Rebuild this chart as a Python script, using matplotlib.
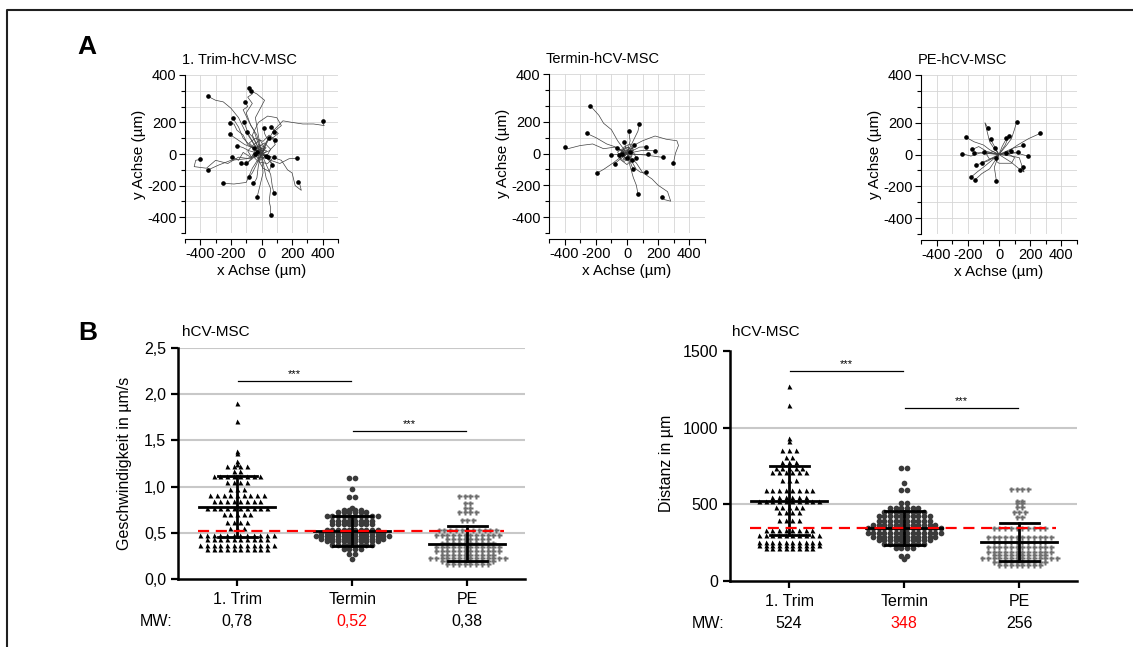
"""
plot.py

hCV-MSC migration: tracks (A) and speed / distance per group (B).
"""

import matplotlib
matplotlib.use("Agg")
import matplotlib.pyplot as plt
import numpy as np
from matplotlib.lines import Line2D

plt.rcParams["font.family"] = ["Liberation Sans", "DejaVu Sans"]

W, H = 1133, 647

# --- Panel A: cell tracks (x, y in µm), every track starts at the origin ---
TRIM_TRACKS = [
    [(0, 0), (-60, 80), (-110, 150), (-150, 230), (-200, 290), (-250, 330), (-300, 340), (-350, 365)],
    [(0, 0), (-30, 120), (-70, 180), (-100, 260), (-60, 320), (-90, 360), (-60, 380), (-80, 420)],
    [(0, 0), (-50, 150), (-80, 200), (-120, 280), (-90, 300), (-105, 330)],
    [(0, 0), (-90, 60), (-120, 120), (-160, 150), (-180, 190), (-208, 194)],
    [(0, 0), (-70, 50), (-120, 100), (-150, 170), (-186, 225)],
    [(0, 0), (-60, 110), (-90, 140), (-116, 204)],
    [(0, 0), (-60, 40), (-110, 60), (-170, 100), (-208, 124)],
    [(0, 0), (-80, 20), (-120, 40), (-160, 53)],
    [(0, 0), (-40, -20), (-70, -30), (-100, -70), (-131, -59)],
    [(0, 0), (-80, -30), (-150, -20), (-220, -60), (-300, -40), (-360, -90),
     (-440, -80), (-430, -40), (-400, -34)],
    [(0, 0), (-100, -30), (-200, -40), (-280, -70), (-350, -101)],
    [(0, 0), (-60, -90), (-100, -180), (-180, -190), (-254, -185)],
    [(0, 0), (-40, -80), (-60, -120), (-83, -147)],
    [(0, 0), (-20, -70), (-30, -150), (-40, -170), (-55, -185)],
    [(0, 0), (10, -120), (-10, -200), (-28, -270)],
    [(0, 0), (30, -150), (60, -220), (50, -300), (60, -340), (59, -385)],
    [(0, 0), (60, -130), (70, -200), (81, -248)],
    [(0, 0), (60, -40), (120, -60), (180, -30), (234, -27)],
    [(0, 0), (70, -20), (130, -40), (170, -100), (200, -120), (220, -200),
     (260, -230), (250, -190), (238, -175)],
    [(0, 0), (40, 80), (80, 150), (140, 210), (200, 200), (270, 190), (340, 190),
     (410, 180), (400, 195), (402, 208)],
    [(0, 0), (40, 90), (20, 130), (15, 162)],
    [(0, 0), (20, 60), (48, 99)],
    [(0, 0), (40, -30), (70, -69)],
    [(0, 0), (-50, 36)],
    [(0, 0), (-50, 60), (-94, 141)],
    [(0, 0), (-40, 230), (20, 340), (-30, 380), (-70, 400)],
    [(0, 0), (30, -20), (60, 30), (20, 70), (-30, 40), (-60, -10), (-20, -50), (40, -60), (80, -20)],
    [(0, 0), (-40, 30), (-80, 70), (-40, 100), (10, 80), (50, 120), (90, 90)],
    [(0, 0), (20, 40), (-10, 90), (-50, 60), (-90, 20), (-60, -30), (-100, -60)],
    [(0, 0), (-20, -40), (10, -90), (50, -110), (70, -60), (40, -20)],
    [(0, 0), (50, 20), (90, 60), (70, 100), (110, 130), (60, 170)],
    [(0, 0), (-30, 10), (-70, -20), (-120, 10), (-150, -40), (-190, -20)],
    [(0, 0), (30, 40), (-20, 60), (10, 20), (-40, -10), (-10, -40), (30, -10)],
    [(0, 0), (-60, 120), (-20, 200), (40, 240), (100, 230), (130, 180), (80, 140)],
    [(0, 0), (-30, 50), (20, 30), (-10, -20), (40, -30), (10, 10), (-40, 0)],
    [(0, 0), (25, -15), (-15, 25), (35, 20), (-25, -30), (5, 40), (-30, 15)],
]
TERMIN_TRACKS = [
    [(0, 0), (-60, 80), (-100, 150), (-150, 190), (-180, 240), (-235, 300)],
    [(0, 0), (-70, 40), (-130, 60), (-200, 100), (-257, 126)],
    [(0, 0), (-80, 40), (-150, 30), (-220, 60), (-300, 50), (-380, 30), (-398, 42)],
    [(0, 0), (-50, -30), (-90, -60), (-150, -100), (-191, -122)],
    [(0, 0), (20, 80), (11, 141)],
    [(0, 0), (50, 100), (70, 140), (80, 185)],
    [(0, 0), (-17, 74)],
    [(0, 0), (80, 40), (124, 42)],
    [(0, 0), (100, 20), (178, 17)],
    [(0, 0), (120, -10), (233, -25)],
    [(0, 0), (60, 60), (100, 80), (180, 110), (250, 90), (320, 80), (330, 50),
     (310, 0), (298, -59)],
    [(0, 0), (60, -60), (100, -120), (160, -160), (200, -200), (260, -240),
     (280, -300), (240, -290), (222, -274)],
    [(0, 0), (20, -80), (40, -150), (60, -200), (70, -253)],
    [(0, 0), (37, -95)],
    [(0, 0), (60, -100), (90, -120), (124, -116)],
    [(0, 0), (-78, -63)],
    [(0, 0), (135, 0)],
    [(0, 0), (-104, -10)],
    [(0, 0), (-61, 32)],
    [(0, 0), (48, 53)],
    [(0, 0), (20, -30), (-20, -50), (-50, -20), (-30, 20), (10, 40), (40, 10), (60, -30)],
    [(0, 0), (-30, 30), (-60, 10), (-40, -40), (0, -70), (30, -40)],
    [(0, 0), (40, 20), (20, 60), (-20, 40), (-40, -10), (0, -30)],
    [(0, 0), (30, -40), (-20, -30), (10, 30), (-10, -10), (20, 10)],
    [(0, 0), (-40, 10), (-20, -40), (30, -20), (40, 30), (-10, 40), (-50, -10)],
    [(0, 0), (15, 25), (-25, 15), (-15, -25), (25, -15), (35, 5), (-35, -5)],
]
PE_TRACKS = [
    [(0, 0), (-60, 30), (-100, 60), (-160, 80), (-213, 109)],
    [(0, 0), (-120, 10), (-180, -10), (-239, 6)],
    [(0, 0), (-80, 20), (-130, 50), (-170, 32)],
    [(0, 0), (-80, 10), (-159, 11)],
    [(0, 0), (-70, -40), (-148, -67)],
    [(0, 0), (-50, -40), (-100, -80), (-140, -110), (-180, -143)],
    [(0, 0), (-60, -90), (-110, -120), (-152, -158)],
    [(0, 0), (-30, -80), (-17, -164)],
    [(0, 0), (-40, 50), (-60, 80), (-90, 200), (-72, 168)],
    [(0, 0), (-54, 95)],
    [(0, 0), (20, 50), (48, 101)],
    [(0, 0), (40, 60), (63, 116)],
    [(0, 0), (50, 60), (80, 100), (100, 160), (113, 206)],
    [(0, 0), (60, 20), (120, 60), (190, 100), (265, 133)],
    [(0, 0), (90, 40), (157, 57)],
    [(0, 0), (110, 10), (189, -11)],
    [(0, 0), (80, -10), (130, -20), (160, -110), (152, -78)],
    [(0, 0), (80, -50), (135, -95)],
    [(0, 0), (-93, 17)],
    [(0, 0), (80, 21)],
    [(0, 0), (-20, -40), (0, -55), (80, -55), (100, -20), (48, 11)],
    [(0, 0), (-111, -53)],
    [(0, 0), (-28, 42)],
    [(0, 0), (124, 15)],
    [(0, 0), (-40, 20), (-80, 0), (-60, -30), (-20, -20)],
]
TRACK_TITLES = ["1. Trim-hCV-MSC", "Termin-hCV-MSC", "PE-hCV-MSC"]

# --- Panel B: per-cell values (level, number of cells at that level) ---
GROUPS = ["1. Trim", "Termin", "PE"]

SPEED_TRIM_LEVELS = [1.90, 1.71, 1.39, 1.36, 1.28, 1.25, 1.22, 1.17, 1.11, 1.05, 0.97,
                     0.91, 0.84, 0.77, 0.70, 0.62, 0.55, 0.48, 0.43, 0.37, 0.33]
SPEED_TRIM_COUNTS = [1, 1, 1, 1, 1, 1, 4, 2, 8, 4, 3, 9, 8, 10, 5, 4, 3, 12, 10, 12, 10]
SPEED_TERMIN_LEVELS = [1.09, 0.97, 0.89, 0.77, 0.75, 0.72, 0.68, 0.63, 0.59, 0.53, 0.50,
                       0.46, 0.43, 0.41, 0.37, 0.32, 0.27, 0.22]
SPEED_TERMIN_COUNTS = [2, 1, 2, 1, 4, 6, 10, 8, 8, 10, 12, 14, 12, 10, 8, 4, 2, 1]
SPEED_PE_LEVELS = [0.90, 0.82, 0.77, 0.73, 0.64, 0.53, 0.48, 0.43, 0.39, 0.35, 0.30,
                   0.26, 0.23, 0.19, 0.16]
SPEED_PE_COUNTS = [4, 2, 2, 4, 3, 11, 12, 8, 10, 12, 12, 10, 14, 10, 8]

DIST_TRIM_LEVELS = [1270, 1146, 933, 912, 853, 810, 777, 740, 712, 658, 593, 549, 523,
                    484, 451, 397, 332, 300, 256, 234, 213]
DIST_TRIM_COUNTS = [1, 1, 1, 1, 3, 2, 3, 5, 6, 3, 8, 6, 10, 5, 4, 4, 8, 10, 10, 10, 8]
DIST_TERMIN_LEVELS = [734, 640, 593, 506, 473, 451, 423, 393, 365, 343, 315, 289, 267,
                      241, 213, 163, 141]
DIST_TERMIN_COUNTS = [2, 1, 2, 2, 6, 8, 10, 10, 12, 14, 14, 12, 10, 8, 4, 2, 1]
DIST_PE_LEVELS = [603, 523, 506, 484, 451, 419, 343, 289, 256, 219, 191, 169, 148, 126, 104]
DIST_PE_COUNTS = [4, 2, 2, 2, 3, 2, 10, 12, 10, 12, 12, 10, 14, 10, 8]

# mean and SD bounds
SPEED_MEAN = [0.78, 0.52, 0.38]
SPEED_LOW = [0.45, 0.36, 0.19]
SPEED_HIGH = [1.12, 0.68, 0.57]
DIST_MEAN = [524, 348, 256]
DIST_LOW = [300, 235, 130]
DIST_HIGH = [750, 455, 380]

SPEED_MW = ["0,78", "0,52", "0,38"]
DIST_MW = ["524", "348", "256"]

# significance bars: (from group, to group, height)
SPEED_SIG = [(0, 1, 2.14), (1, 2, 1.60)]
DIST_SIG = [(0, 1, 1370), (1, 2, 1131)]


def px_axes(fig, left, right, top, bottom):
    return fig.add_axes([left / W, 1 - bottom / H, (right - left) / W, (bottom - top) / H])


def draw_tracks(ax, tracks, title):
    for tr in tracks:
        xs = [p[0] for p in tr]
        ys = [p[1] for p in tr]
        ax.plot(xs, ys, color="#404040", lw=0.5, zorder=3)
        ax.plot(xs[-1], ys[-1], "o", color="black", ms=2.3, zorder=4)

    ax.set_xlim(-500, 500)
    ax.set_ylim(-500, 500)
    ax.set_xticks([-400, -200, 0, 200, 400])
    ax.set_xticklabels(["-400", "-200", "0", "200", "400"])
    ax.set_xticks(np.arange(-500, 501, 100), minor=True)
    ax.set_yticks([500, 200, 0, -200, -400])
    ax.set_yticklabels(["400", "200", "0", "-200", "-400"])
    ax.set_yticks(np.arange(-500, 501, 100), minor=True)
    ax.grid(which="both", color="#d6d6d6", lw=0.6, zorder=0)
    ax.tick_params(which="major", length=4, width=0.8, labelsize=10.5, pad=2)
    ax.tick_params(which="minor", length=3, width=0.8)
    for side in ("top", "right"):
        ax.spines[side].set_visible(False)
    ax.spines["bottom"].set_position(("outward", 4))
    ax.spines["left"].set_linewidth(0.8)
    ax.spines["bottom"].set_linewidth(0.8)
    ax.set_xlabel("x Achse (µm)", fontsize=11, labelpad=2)
    ax.set_ylabel("y Achse (µm)", fontsize=11, labelpad=1)
    ax.set_title(title, fontsize=10.5, loc="left", x=-0.02, pad=8)


def swarm(levels, counts, center, spacing):
    xs, ys = [], []
    for lvl, n in zip(levels, counts):
        offs = (np.arange(n) - (n - 1) / 2) * spacing
        xs.extend(center + offs)
        ys.extend([lvl] * n)
    return np.array(xs), np.array(ys)


def draw_scatter(ax, data, means, lows, highs, mw, sig, ymax, yticks, yticklabels,
                 ylabel_grid, red_level):
    styles = [
        dict(marker="^", color="black", ms=3.6),
        dict(marker="o", color="#3a3a3a", ms=4.1),
        dict(marker="P", color="#6e6e6e", ms=3.6),
    ]
    spacings = [0.058, 0.049, 0.05]
    for i, (levels, counts) in enumerate(data):
        xs, ys = swarm(levels, counts, i, spacings[i])
        ax.plot(xs, ys, ls="none", mec="none", zorder=3, **styles[i])

    for i in range(3):
        ax.plot([i - 0.33, i + 0.33], [means[i]] * 2, color="black", lw=2, zorder=5)
        ax.plot([i - 0.17, i + 0.17], [lows[i]] * 2, color="black", lw=2, zorder=5)
        ax.plot([i - 0.17, i + 0.17], [highs[i]] * 2, color="black", lw=2, zorder=5)
        ax.plot([i, i], [lows[i], highs[i]], color="black", lw=2, zorder=5)

    ax.plot([-0.34, 2.32], [red_level] * 2, color="red", lw=1.6, dashes=(5, 3), zorder=6)

    for a, b, h in sig:
        ax.plot([a + 0.01, b - 0.01], [h, h], color="black", lw=0.9)
        ax.text((a + b) / 2, h + ymax * 0.008, "***", ha="center", va="bottom", fontsize=8)

    for g in ylabel_grid:
        ax.axhline(g, color="#c8c8c8", lw=1.5, zorder=0)

    ax.set_xlim(-0.513, 2.5)
    ax.set_ylim(0, ymax)
    ax.set_xticks(range(3))
    ax.set_xticklabels(GROUPS)
    ax.set_yticks(yticks)
    ax.set_yticklabels(yticklabels)
    ax.tick_params(axis="both", length=5, width=1.6, labelsize=11.5)
    ax.tick_params(axis="x", pad=4)
    for side in ("top", "right"):
        ax.spines[side].set_visible(False)
    for side in ("left", "bottom"):
        ax.spines[side].set_linewidth(1.8)

    tr = ax.get_xaxis_transform()
    ax.text(-0.70, -0.186, "MW:", transform=tr, ha="center", va="center", fontsize=11.5)
    for i, val in enumerate(mw):
        ax.text(i, -0.186, val, transform=tr, ha="center", va="center", fontsize=11.5,
                color="red" if i == 1 else "black")


def main():
    fig = plt.figure(figsize=(W / 100, H / 100), dpi=100)

    # frame
    fig.add_artist(Line2D([7 / W, 7 / W, 1], [0, 1 - 10 / H, 1 - 10 / H],
                          color="#202020", lw=1.5))

    fig.text(87 / W, 1 - 47 / H, "A", fontsize=19, fontweight="bold", ha="center", va="center")
    fig.text(88 / W, 1 - 333 / H, "B", fontsize=19, fontweight="bold", ha="center", va="center")

    boxes = [(185, 338, 75, 233), (549, 705, 74, 233), (921, 1077, 75, 234)]
    for box, tracks, title in zip(boxes, [TRIM_TRACKS, TERMIN_TRACKS, PE_TRACKS], TRACK_TITLES):
        ax = px_axes(fig, *box)
        draw_tracks(ax, tracks, title)

    ax1 = px_axes(fig, 178, 525, 348, 579)
    draw_scatter(
        ax1,
        [(SPEED_TRIM_LEVELS, SPEED_TRIM_COUNTS),
         (SPEED_TERMIN_LEVELS, SPEED_TERMIN_COUNTS),
         (SPEED_PE_LEVELS, SPEED_PE_COUNTS)],
        SPEED_MEAN, SPEED_LOW, SPEED_HIGH, SPEED_MW, SPEED_SIG, 2.5,
        [0, 0.5, 1.0, 1.5, 2.0, 2.5], ["0,0", "0,5", "1,0", "1,5", "2,0", "2,5"],
        [0.5, 1.0, 1.5, 2.0, 2.5], 0.52,
    )
    fig.text(125 / W, 1 - 463 / H, "Geschwindigkeit in µm/s", rotation=90,
             ha="center", va="center", fontsize=11.5)
    fig.text(182 / W, 1 - 332 / H, "hCV-MSC", ha="left", va="center", fontsize=11)

    ax2 = px_axes(fig, 730, 1077, 351, 581)
    draw_scatter(
        ax2,
        [(DIST_TRIM_LEVELS, DIST_TRIM_COUNTS),
         (DIST_TERMIN_LEVELS, DIST_TERMIN_COUNTS),
         (DIST_PE_LEVELS, DIST_PE_COUNTS)],
        DIST_MEAN, DIST_LOW, DIST_HIGH, DIST_MW, DIST_SIG, 1500,
        [0, 500, 1000, 1500], ["0", "500", "1000", "1500"],
        [500, 1000], 348,
    )
    fig.text(667 / W, 1 - 463 / H, "Distanz in µm", rotation=90,
             ha="center", va="center", fontsize=11.5)
    fig.text(732 / W, 1 - 332 / H, "hCV-MSC", ha="left", va="center", fontsize=11)

    fig.savefig("out.png", dpi=100)
    plt.close(fig)


if __name__ == "__main__":
    main()
